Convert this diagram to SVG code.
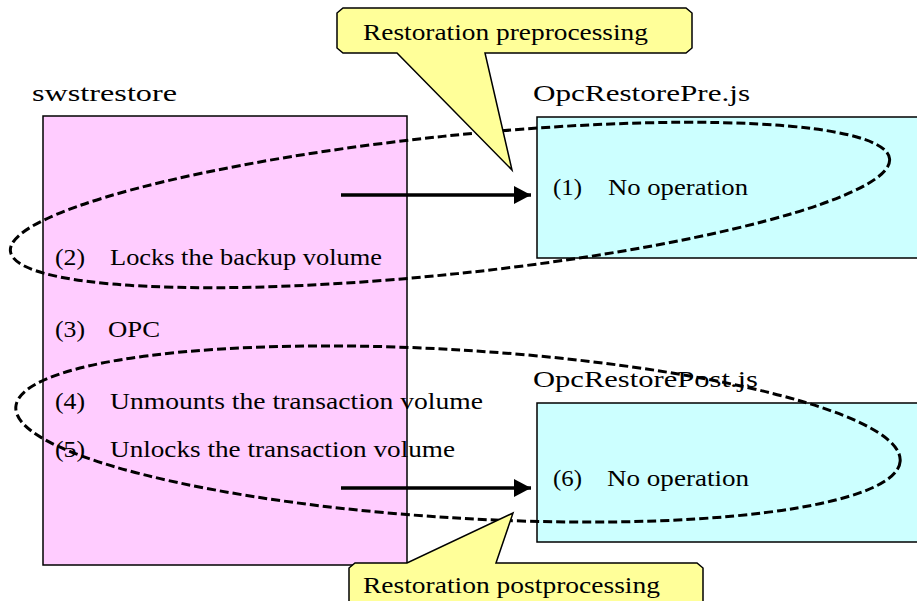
<svg xmlns="http://www.w3.org/2000/svg" width="917" height="601" viewBox="0 0 917 601">
<defs>
<style>
text{font-family:"Liberation Serif","DejaVu Serif",serif;font-size:23px;fill:#000;}
.pink{fill:#FFCCFF;stroke:#000;stroke-width:1.5;}
.cyan{fill:#CCFFFF;stroke:#000;stroke-width:1.5;}
.call{fill:#FFFF99;stroke:#000;stroke-width:1.5;stroke-linejoin:miter;}
.dash{fill:none;stroke:#000;stroke-width:3;stroke-dasharray:9 4;}
.arrow{stroke:#000;stroke-width:3.5;fill:none;marker-end:url(#ah);}
</style>
<marker id="ah" markerUnits="userSpaceOnUse" markerWidth="18" markerHeight="20" refX="17" refY="9" orient="auto">
<path d="M0,0 L17,9 L0,18 Z" fill="#000"/>
</marker>
</defs>
<rect width="917" height="601" fill="#fff"/>

<g id="swstrestore">
<text x="32" y="101" textLength="145" lengthAdjust="spacingAndGlyphs">swstrestore</text>
<rect class="pink" x="43" y="116" width="364" height="449"/>
<text x="55" y="265" textLength="30" lengthAdjust="spacingAndGlyphs">(2)</text>
<text x="110" y="265" textLength="272" lengthAdjust="spacingAndGlyphs">Locks the backup volume</text>
<text x="55" y="337" textLength="30" lengthAdjust="spacingAndGlyphs">(3)</text>
<text x="108" y="337" textLength="52" lengthAdjust="spacingAndGlyphs">OPC</text>
<text x="55" y="409" textLength="30" lengthAdjust="spacingAndGlyphs">(4)</text>
<text x="55" y="457" textLength="30" lengthAdjust="spacingAndGlyphs">(5)</text>
</g>

<g id="opcrestorepre">
<text x="533" y="101" textLength="217" lengthAdjust="spacingAndGlyphs">OpcRestorePre.js</text>
<rect class="cyan" x="537" y="117" width="385" height="141"/>
<text x="553" y="195" textLength="29" lengthAdjust="spacingAndGlyphs">(1)</text>
<text x="608" y="195" textLength="140" lengthAdjust="spacingAndGlyphs">No operation</text>
</g>

<g id="opcrestorepost">
<text x="533" y="387" textLength="225" lengthAdjust="spacingAndGlyphs">OpcRestorePost.js</text>
<rect class="cyan" x="537" y="403" width="385" height="139"/>
<text x="553" y="486" textLength="29" lengthAdjust="spacingAndGlyphs">(6)</text>
<text x="607" y="486" textLength="142" lengthAdjust="spacingAndGlyphs">No operation</text>
</g>

<g id="steps45">
<text x="110" y="409" textLength="373" lengthAdjust="spacingAndGlyphs">Unmounts the transaction volume</text>
<text x="110" y="457" textLength="345" lengthAdjust="spacingAndGlyphs">Unlocks the transaction volume</text>
</g>

<g id="connectors">
<line class="arrow" x1="341" y1="195" x2="531" y2="195"/>
<line class="arrow" x1="341" y1="488" x2="531" y2="488"/>
<ellipse class="dash" cx="450" cy="205" rx="442" ry="69" transform="rotate(-6 450 205)"/>
<ellipse class="dash" cx="458" cy="434" rx="443" ry="84" transform="rotate(3.5 458 434)"/>
</g>

<g id="callout-pre">
<path class="call" d="M343,8 L686,8 L692,13 L692,48 L686,53 L485,53 L512,170 L397,53 L343,53 L337,48 L337,13 Z"/>
<text x="363" y="40" textLength="285" lengthAdjust="spacingAndGlyphs">Restoration preprocessing</text>
</g>

<g id="callout-post">
<path class="call" d="M355,563 L407,563 L513,513 L496,563 L697,563 L703,568 L703,610 L349,610 L349,568 Z"/>
<text x="363" y="593" textLength="297" lengthAdjust="spacingAndGlyphs">Restoration postprocessing</text>
</g>
</svg>
